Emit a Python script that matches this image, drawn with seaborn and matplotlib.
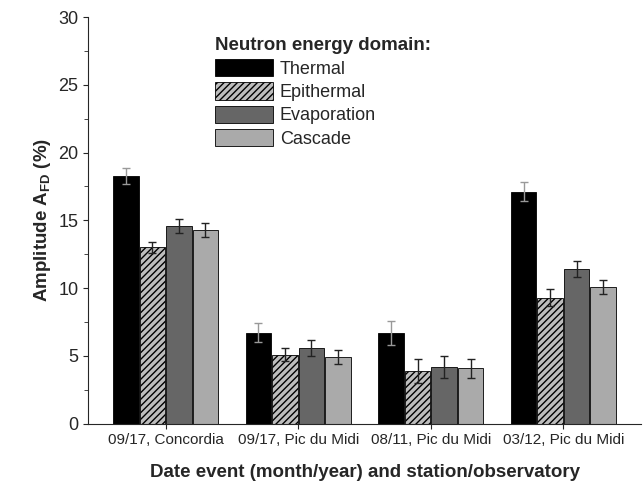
import matplotlib
matplotlib.use("Agg")
import matplotlib.pyplot as plt
import seaborn as sns
import pandas as pd
import numpy as np

events = ["09/17, Concordia", "09/17, Pic du Midi", "08/11, Pic du Midi", "03/12, Pic du Midi"]
domains = ["Thermal", "Epithermal", "Evaporation", "Cascade"]
thermal = [18.3, 6.7, 6.7, 17.1]
epithermal = [13.0, 5.1, 3.9, 9.3]
evaporation = [14.6, 5.6, 4.2, 11.4]
cascade = [14.3, 4.9, 4.1, 10.1]
err_thermal = [0.6, 0.7, 0.9, 0.7]
err_epithermal = [0.4, 0.5, 0.9, 0.6]
err_evaporation = [0.5, 0.6, 0.8, 0.6]
err_cascade = [0.5, 0.5, 0.7, 0.5]

vals = [thermal, epithermal, evaporation, cascade]
errs = [err_thermal, err_epithermal, err_evaporation, err_cascade]
rows = []
for d, v, e in zip(domains, vals, errs):
    for ev, vv, ee in zip(events, v, e):
        rows.append(dict(event=ev, domain=d, value=vv, err=ee))
df = pd.DataFrame(rows)

sns.set_style("ticks")
plt.rcParams['font.family'] = ['Liberation Sans', 'DejaVu Sans']
fig, ax = plt.subplots(figsize=(6.44, 4.87), dpi=100)
fig.subplots_adjust(left=0.137, right=0.995, bottom=0.13, top=0.965)
colors = ["#000000", "#bdbdbd", "#666666", "#aaaaaa"]
sns.barplot(data=df, x="event", y="value", hue="domain", palette=colors,
            errorbar=None, width=0.8, gap=0.05, edgecolor="black", linewidth=0.6, ax=ax,
            saturation=1, legend=False)

bars = list(ax.containers)
for i, cont in enumerate(bars):
    d = domains[i]
    sub = df[df.domain == d]
    xs = [p.get_x() + p.get_width() / 2 for p in cont.patches]
    ax.errorbar(xs, sub["value"].values, yerr=sub["err"].values, fmt="none",
                ecolor="#222222" if i else "#999999", elinewidth=1, capsize=3, capthick=1)
    if i == 1:
        for p in cont.patches:
            p.set_hatch("/////")

ax.set_ylim(0, 30)
ax.set_yticks(range(0, 31, 5))
ax.yaxis.set_minor_locator(matplotlib.ticker.MultipleLocator(2.5))
ax.tick_params(axis='y', which='minor', length=3)
ax.tick_params(axis='y', labelsize=13)
ax.tick_params(axis='x', labelsize=11)
ax.set_xlabel("Date event (month/year) and station/observatory", fontsize=13.5, fontweight="bold", labelpad=12)
ax.set_ylabel("Amplitude A$_{\\mathregular{FD}}$ (%)", fontsize=13.5, fontweight="bold")
sns.despine(ax=ax)
handles = [bars[i].patches[0] for i in range(4)]
leg = ax.legend(handles, domains, title="Neutron energy domain:", loc="upper left",
                bbox_to_anchor=(0.2, 0.99), frameon=False, fontsize=13, handlelength=3.2,
                handleheight=1.1, labelspacing=0.25, handletextpad=0.4)
leg.get_title().set_fontweight("bold")
leg.get_title().set_fontsize(13.5)
leg._legend_box.align = "left"
fig.savefig("out.png", dpi=100)
